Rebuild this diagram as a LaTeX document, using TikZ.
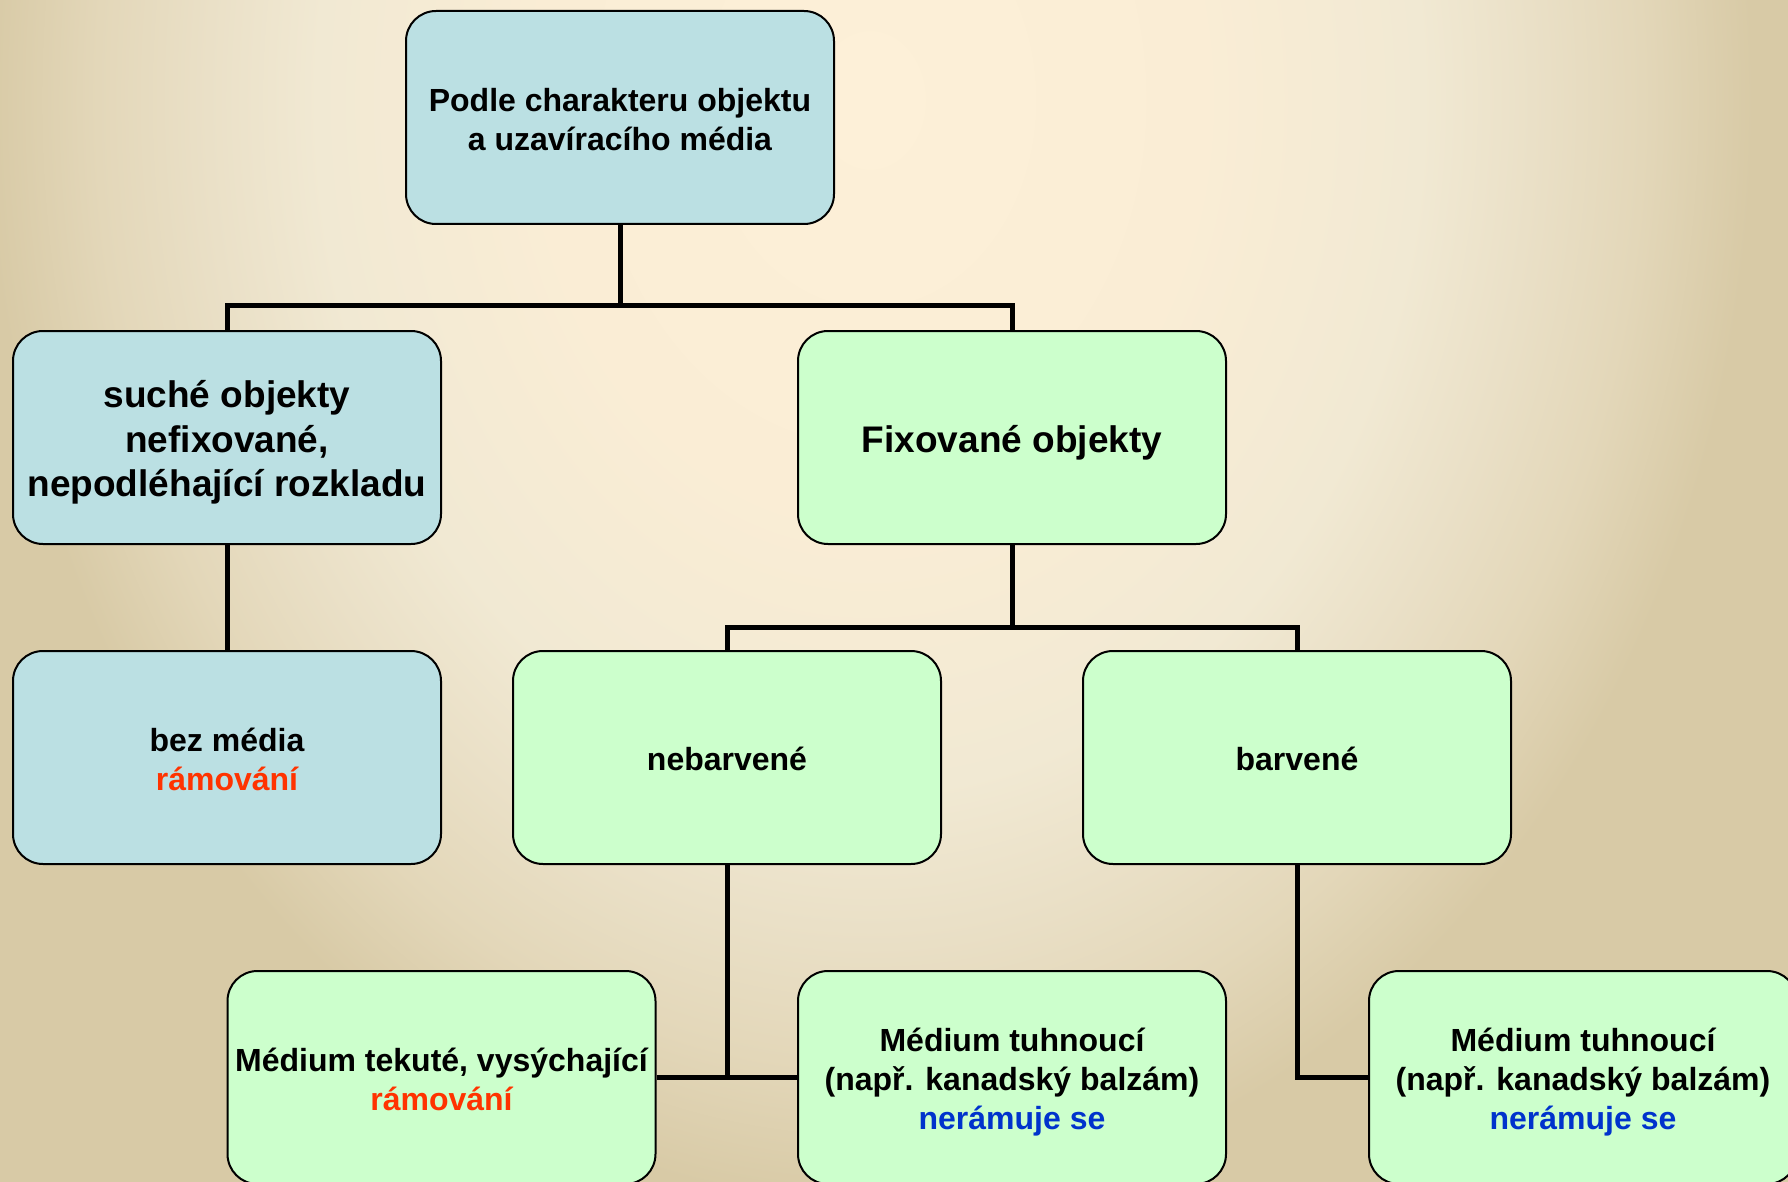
\documentclass[tikz,border=0pt]{standalone}
\usepackage{fontspec}
\setmainfont{Liberation Sans}
\usepackage{tikz}
\definecolor{dryColor}{RGB}{187,224,227}
\definecolor{fixColor}{RGB}{204,255,204}
\definecolor{frameRed}{RGB}{255,51,0}
\definecolor{noFrameBlue}{RGB}{0,51,204}
\definecolor{bgLight}{RGB}{253,240,216}
\definecolor{bgWarm}{RGB}{250,237,213}
\definecolor{bgSoft}{RGB}{241,233,211}
\definecolor{bgMid}{RGB}{234,224,199}
\definecolor{bgDark}{RGB}{227,215,185}
\definecolor{bgEdge}{RGB}{216,202,166}
\pgfdeclareradialshading{paperShade}{\pgfpoint{0bp}{0bp}}{color(0bp)=(bgLight); color(9bp)=(bgWarm); color(15bp)=(bgSoft); color(18bp)=(bgMid); color(21bp)=(bgDark); color(24bp)=(bgEdge); color(50bp)=(bgEdge)}
\tikzstyle{chart} = [x = 0.5pt, y = -0.5pt]
\tikzstyle{dryBox} = [draw=black, line width=1pt, fill=dryColor, rounded corners = 15pt, minimum width = 214pt, minimum height = 106.5pt, inner sep = 0pt, font=\bfseries\fontsize{16}{19.5}\selectfont]
\tikzstyle{fixBox} = [dryBox, fill=fixColor]
\tikzstyle{bigText} = [font=\bfseries\fontsize{18.5}{22.25}\selectfont]
\tikzstyle{treeLine} = [color=black, line width = 2.5pt]
\newcommand{\boxText}[1]{\raisebox{-2.8pt}[\height][\depth]{\begin{tabular}{@{}c@{}}#1\end{tabular}}}
\newcommand{\ramovani}{\textcolor{frameRed}{rámování}}
\newcommand{\neramuje}{\textcolor{noFrameBlue}{nerámuje se}}
\newcommand{\busLine}[3]{\draw [treeLine] (#1.south) -- (#3); \draw [treeLine] (#2.north) -- (#2.north |- #3) -- (#3);}
\begin{document}
\begin{tikzpicture}[chart]
        \useasboundingbox (0,0) rectangle (1788,1182);
        \clip (0,0) rectangle (1788,1182);
        \shade [shading=paperShade] (-50,-1050) rectangle (1790,1250);

        \node [dryBox] (root) at (620,117.5) {\boxText{Podle charakteru objektu\\a uzavíracího média}};
        \node [dryBox, bigText] (dry) at (227,437.5) {\boxText{suché objekty\\nefixované,\\nepodléhající rozkladu}};
        \node [fixBox, bigText] (fixed) at (1012,437.5) {\boxText{Fixované objekty}};
        \node [dryBox] (noMedium) at (227,757.5) {\boxText{bez média\\\ramovani}};
        \node [fixBox] (unstained) at (727,757.5) {\boxText{nebarvené}};
        \node [fixBox] (stained) at (1297,757.5) {\boxText{barvené}};
        \node [fixBox] (liquid) at (441.5,1077.5) {\boxText{Médium tekuté, vysýchající\\\ramovani}};
        \foreach \name/\x in {hardA/1012, hardB/1583} {
          \node [fixBox] (\name) at (\x,1077.5) {\boxText{Médium tuhnoucí\\(např. kanadský balzám)\\\neramuje}};
        }

        \coordinate (rootBus) at (620,306);
        \coordinate (fixedBus) at (1012,627);
        \busLine{root}{dry}{rootBus}
        \busLine{root}{fixed}{rootBus}
        \busLine{fixed}{unstained}{fixedBus}
        \busLine{fixed}{stained}{fixedBus}
        \draw [treeLine] (dry.south) -- (noMedium.north);
        \draw [treeLine] (liquid.east) -- (hardA.west);
        \draw [treeLine] (unstained.south) -- (unstained.south |- liquid.east);
        \draw [treeLine] (stained.south) |- (hardB.west);
      \end{tikzpicture}
\end{document}
